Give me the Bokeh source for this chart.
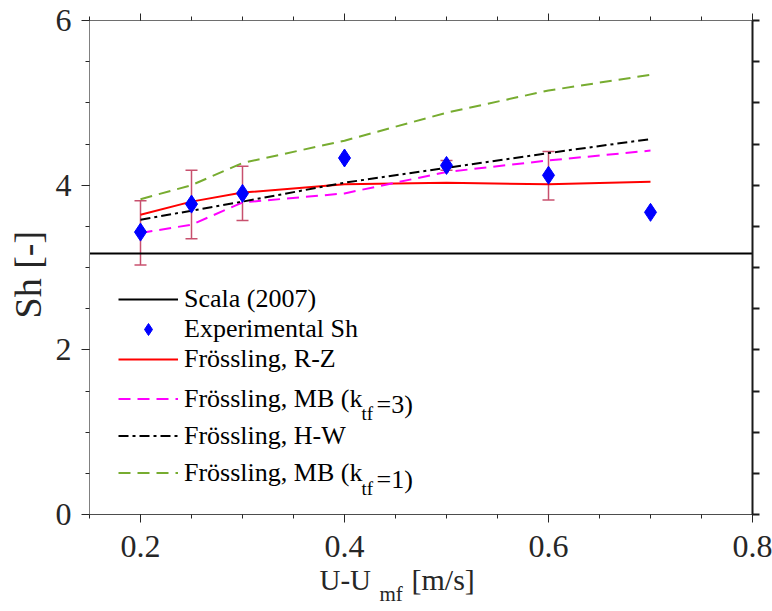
from bokeh.plotting import figure
from bokeh.layouts import column
from bokeh.models import (ColumnDataSource, FixedTicker, LinearAxis, Legend, LegendItem,
                          Whisker, TeeHead, Label, Range1d, Title)
from bokeh.embed import file_html
from bokeh.resources import INLINE

# ---------------- data ----------------
x_exp = [0.2, 0.25, 0.3, 0.4, 0.5, 0.6, 0.7]
sh_exp = [3.43, 3.77, 3.90, 4.33, 4.24, 4.12, 3.67]

x_err = [0.2, 0.25, 0.3, 0.5, 0.6]
err_upper = [3.81, 4.18, 4.23, 4.30, 4.41]
err_lower = [3.03, 3.35, 3.57, 4.18, 3.82]

x_model = [0.2, 0.25, 0.3, 0.4, 0.5, 0.6, 0.7]
sh_rz = [3.64, 3.80, 3.91, 4.01, 4.03, 4.01, 4.04]
sh_mb3 = [3.42, 3.52, 3.79, 3.90, 4.16, 4.30, 4.42]
sh_hw = [3.58, 3.69, 3.80, 4.03, 4.21, 4.39, 4.56]
sh_mb1 = [3.83, 4.00, 4.27, 4.54, 4.88, 5.15, 5.34]

sh_scala = 3.17

x_lim = [0.15, 0.8]
y_lim = [0, 6]
x_major_ticks = [0.2, 0.4, 0.6, 0.8]
x_minor_ticks = [0.15, 0.2, 0.25, 0.3, 0.35, 0.4, 0.45, 0.5, 0.55, 0.6, 0.65, 0.7, 0.75, 0.8]
y_major_ticks = [0, 2, 4, 6]
y_minor_ticks = [0, 0.5, 1, 1.5, 2, 2.5, 3, 3.5, 4, 4.5, 5, 5.5, 6]

# ---------------- styles ----------------
FONT = "Liberation Serif"
ERR_COLOR = "#c8506e"
DARK = "#262626"
W = 772

p = figure(width=W, height=571, x_range=Range1d(*x_lim), y_range=Range1d(*y_lim),
           title=None, output_backend="svg", toolbar_location=None,
           min_border_left=88, min_border_right=20, min_border_top=20, min_border_bottom=57)
p.outline_line_color = None
p.xgrid.visible = False
p.ygrid.visible = False
p.background_fill_color = "white"
p.border_fill_color = "white"

def style_axis(ax, line_color, line_width, labels=True, major_out=8, minor_out=4):
    ax.axis_line_color = line_color
    ax.axis_line_width = line_width
    ax.major_tick_line_color = DARK
    ax.minor_tick_line_color = DARK
    ax.major_tick_line_width = line_width
    ax.minor_tick_line_width = line_width
    ax.major_tick_in = 0
    ax.major_tick_out = major_out
    ax.minor_tick_in = 0
    ax.minor_tick_out = minor_out
    if labels:
        ax.major_label_text_font = FONT
        ax.major_label_text_font_size = "32px"
        ax.major_label_text_color = DARK
    else:
        ax.major_label_text_font_size = "1px"
        ax.major_label_text_color = None
        ax.major_label_standoff = 0

# bottom
xb = p.xaxis[0]
xb.ticker = FixedTicker(ticks=x_major_ticks, minor_ticks=x_minor_ticks)
style_axis(xb, "#4d4d4d", 1)
xb.major_label_standoff = 13

# left
yl = p.yaxis[0]
yl.ticker = FixedTicker(ticks=y_major_ticks, minor_ticks=y_minor_ticks)
style_axis(yl, "#808080", 1)
yl.major_label_standoff = 10

# top
xt = LinearAxis(ticker=FixedTicker(ticks=x_major_ticks, minor_ticks=x_minor_ticks))
style_axis(xt, "#6e6e6e", 1, labels=False, major_out=7, minor_out=4)
xt.major_label_overrides = {t: "" for t in x_major_ticks}
p.add_layout(xt, "above")

# right
yr = LinearAxis(ticker=FixedTicker(ticks=y_minor_ticks, minor_ticks=[]))
style_axis(yr, "#1a1a1a", 2, labels=False, major_out=7, minor_out=0)
yr.major_tick_line_color = "#1a1a1a"
yr.major_label_overrides = {t: "" for t in y_minor_ticks}
p.add_layout(yr, "right")

# y axis label
p.add_layout(Title(text="Sh [-]", align="left", offset=196, standoff=8,
                   text_font=FONT, text_font_size="38px", text_font_style="normal",
                   text_color=DARK), "left")

# ---------------- glyphs ----------------
r_scala = p.line(x=x_lim, y=[sh_scala, sh_scala], line_color="black", line_width=2)

r_rz = p.line(x=x_model, y=sh_rz, line_color="#ff0000", line_width=2)
r_mb3 = p.line(x=x_model, y=sh_mb3, line_color="#ff00ff", line_width=2, line_dash="12 7")
r_hw = p.line(x=x_model, y=sh_hw, line_color="black", line_width=2, line_dash="10 4 3 4")
r_mb1 = p.line(x=x_model, y=sh_mb1, line_color="#77ac30", line_width=2, line_dash="12 7")

err_src = ColumnDataSource(dict(x=x_err, upper=err_upper, lower=err_lower))
whisk = Whisker(source=err_src, base="x", upper="upper", lower="lower",
                line_color=ERR_COLOR, line_width=1.5, level="underlay",
                upper_head=TeeHead(size=12, line_color=ERR_COLOR, line_width=1.5),
                lower_head=TeeHead(size=12, line_color=ERR_COLOR, line_width=1.5))
p.add_layout(whisk)

r_exp = p.scatter(x=x_exp, y=sh_exp, marker="diamond", size=18,
                  fill_color="#0000ff", line_color="#0000ff")

# ---------------- legends ----------------
def make_legend(items, loc, row_h):
    return Legend(items=items, location=loc, padding=0, margin=0, spacing=0,
                  glyph_width=60, glyph_height=row_h, label_height=row_h,
                  label_standoff=6, border_line_color=None, background_fill_alpha=0,
                  label_text_font=FONT, label_text_font_size="26px",
                  label_text_color="black")

leg1 = make_legend([LegendItem(label="Scala (2007)", renderers=[r_scala]),
                    LegendItem(label="Experimental Sh", renderers=[r_exp]),
                    LegendItem(label="Frössling, R-Z", renderers=[r_rz])],
                   (29, 140), 30)
leg2 = make_legend([LegendItem(label="Frössling, MB (k", renderers=[r_mb3]),
                    LegendItem(label="Frössling, H-W", renderers=[r_hw]),
                    LegendItem(label="Frössling, MB (k", renderers=[r_mb1])],
                   (29, 23), 37)
p.add_layout(leg1)
p.add_layout(leg2)

def lab(fig, x, y, text, size):
    fig.add_layout(Label(x=x, y=y, x_units="screen", y_units="screen", text=text,
                         text_align="left", text_baseline="alphabetic",
                         text_font=FONT, text_font_size=size, text_color="black"))

# subscripts in the legend
lab(p, 272, 101, "tf", "19px")
lab(p, 287, 110, "=3)", "26px")
lab(p, 272, 26, "tf", "19px")
lab(p, 287, 35, "=1)", "26px")

# ---------------- x axis label strip (transparent, pulled up under the axis) ----------------
q = figure(width=W, height=55, x_range=Range1d(0, 1), y_range=Range1d(0, 1),
           title=None, output_backend="svg", toolbar_location=None,
           x_axis_location=None, y_axis_location=None,
           min_border_left=0, min_border_right=0, min_border_top=0, min_border_bottom=0)
q.outline_line_color = None
q.xgrid.visible = False
q.ygrid.visible = False
q.background_fill_alpha = 0
q.border_fill_alpha = 0
q.styles = {"margin-top": "-25px"}

def qlab(x, y, text, size):
    q.add_layout(Label(x=x, y=y, x_units="screen", y_units="screen", text=text,
                       text_align="left", text_baseline="alphabetic",
                       text_font=FONT, text_font_size=size, text_color=DARK))

qlab(230, 22, "U-U", "29px")
qlab(290, 8, "mf", "21px")
qlab(322, 22, "[m/s]", "30px")

layout = column(p, q, spacing=0)
open("out.html", "w").write(file_html(layout, INLINE))
